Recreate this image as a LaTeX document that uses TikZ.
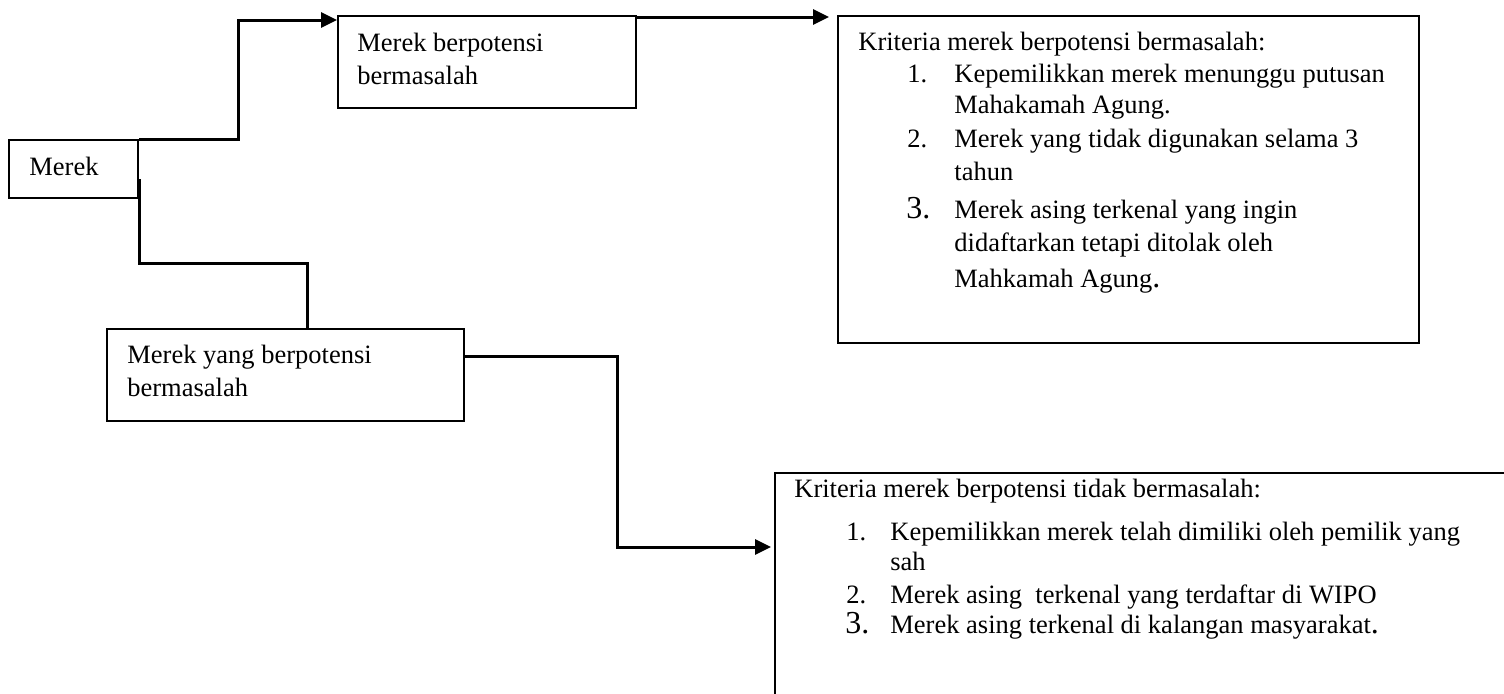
\documentclass[tikz,border=0pt]{standalone}
\usepackage{fontspec}
\setmainfont{Liberation Serif}
\usetikzlibrary{arrows.meta,calc}

\newcommand{\besar}{\fontsize{16pt}{16pt}\selectfont}
\newcommand{\baris}[1]{\begin{tabular}[t]{@{}l@{}}#1\end{tabular}}

\begin{document}
\begin{tikzpicture}[x=0.5pt,y=-0.5pt]
      \tikzstyle{every node} = [inner sep = 0pt, font=\fontsize{13.25pt}{16.5pt}\selectfont];
      \tikzstyle{kotak} = [draw, line width=1pt, rectangle, anchor=north west];
      \tikzstyle{teks} = [anchor=base west];
      \tikzstyle{garis} = [line width=1.5pt];
      \tikzstyle{panah} = [garis, -{Triangle[length=8pt,width=7.5pt]}];
      \useasboundingbox (0,0) rectangle (1504,693);
      \clip (0,0) rectangle (1504,693);

      % kotak-kotak
      \node(merek) [kotak, minimum width=64.5pt, minimum height=29pt] at (8,139) {};
      \node(atas) [kotak, minimum width=149pt, minimum height=46pt] at (337,15) {};
      \node(bawah) [kotak, minimum width=178.5pt, minimum height=46pt] at (106,328) {};
      \node(krit1) [kotak, minimum width=290.5pt, minimum height=163.5pt] at (837,15) {};
      \node(krit2) [kotak, minimum width=368pt, minimum height=114pt] at (774,472) {};

      % teks
      \node(tmerek) [teks] at (29,175) {Merek};
      \node(tatas) [teks] at (357,51) {\baris{Merek berpotensi\\bermasalah}};
      \node(tbawah) [teks] at (127,363) {\baris{Merek yang berpotensi\\bermasalah}};

      \node(h1) [teks] at (858,50) {Kriteria merek berpotensi bermasalah:};
      \foreach \n/\y in {1/82, 2/147}{
        \node(n1\n) [teks] at (907,\y) {\n.};
      }
      \node(n13) [teks] at (906,218) {\besar 3.};
      \node(i11) [teks] at (954,82) {\baris{Kepemilikkan merek menunggu putusan\\[-1pt]Mahakamah Agung.}};
      \node(i12) [teks] at (954,147) {\baris{Merek yang tidak digunakan selama 3\\tahun}};
      \node(i13) [teks] at (954,218) {\baris{Merek asing terkenal yang ingin\\didaftarkan tetapi ditolak oleh\\[1.5pt]Mahkamah Agung{\besar .}}};

      \node(h2) [teks] at (794,497) {Kriteria merek berpotensi tidak bermasalah:};
      \foreach \n/\y in {1/540, 2/603}{
        \node(n2\n) [teks] at (846,\y) {\n.};
      }
      \node(n23) [teks] at (845,633) {\besar 3.};
      \node(i21) [teks] at (890,540) {\baris{Kepemilikkan merek telah dimiliki oleh pemilik yang\\[-1.5pt]sah}};
      \node(i22) [teks] at (890,603) {Merek asing\ \ terkenal yang terdaftar di WIPO};
      \node(i23) [teks] at (890,633) {Merek asing terkenal di kalangan masyarakat{\besar .}};

      % garis penghubung
      \draw[panah] (merek.north east) -- (238,139) |- ($(atas.north west)+(0,5)$);
      \draw[garis] ($(merek.south east)+(0,-20)$) |- (307,263) -- ($(bawah.north west)+(201,0)$);
      \draw[panah] ($(atas.north east)+(0,2)$) -- ($(krit1.north west)+(-8,2)$);
      \draw[panah] ($(bawah.north east)+(0,28)$) -| (617,547) -- ($(krit2.north west)+(-3,75)$);
\end{tikzpicture}
\end{document}
